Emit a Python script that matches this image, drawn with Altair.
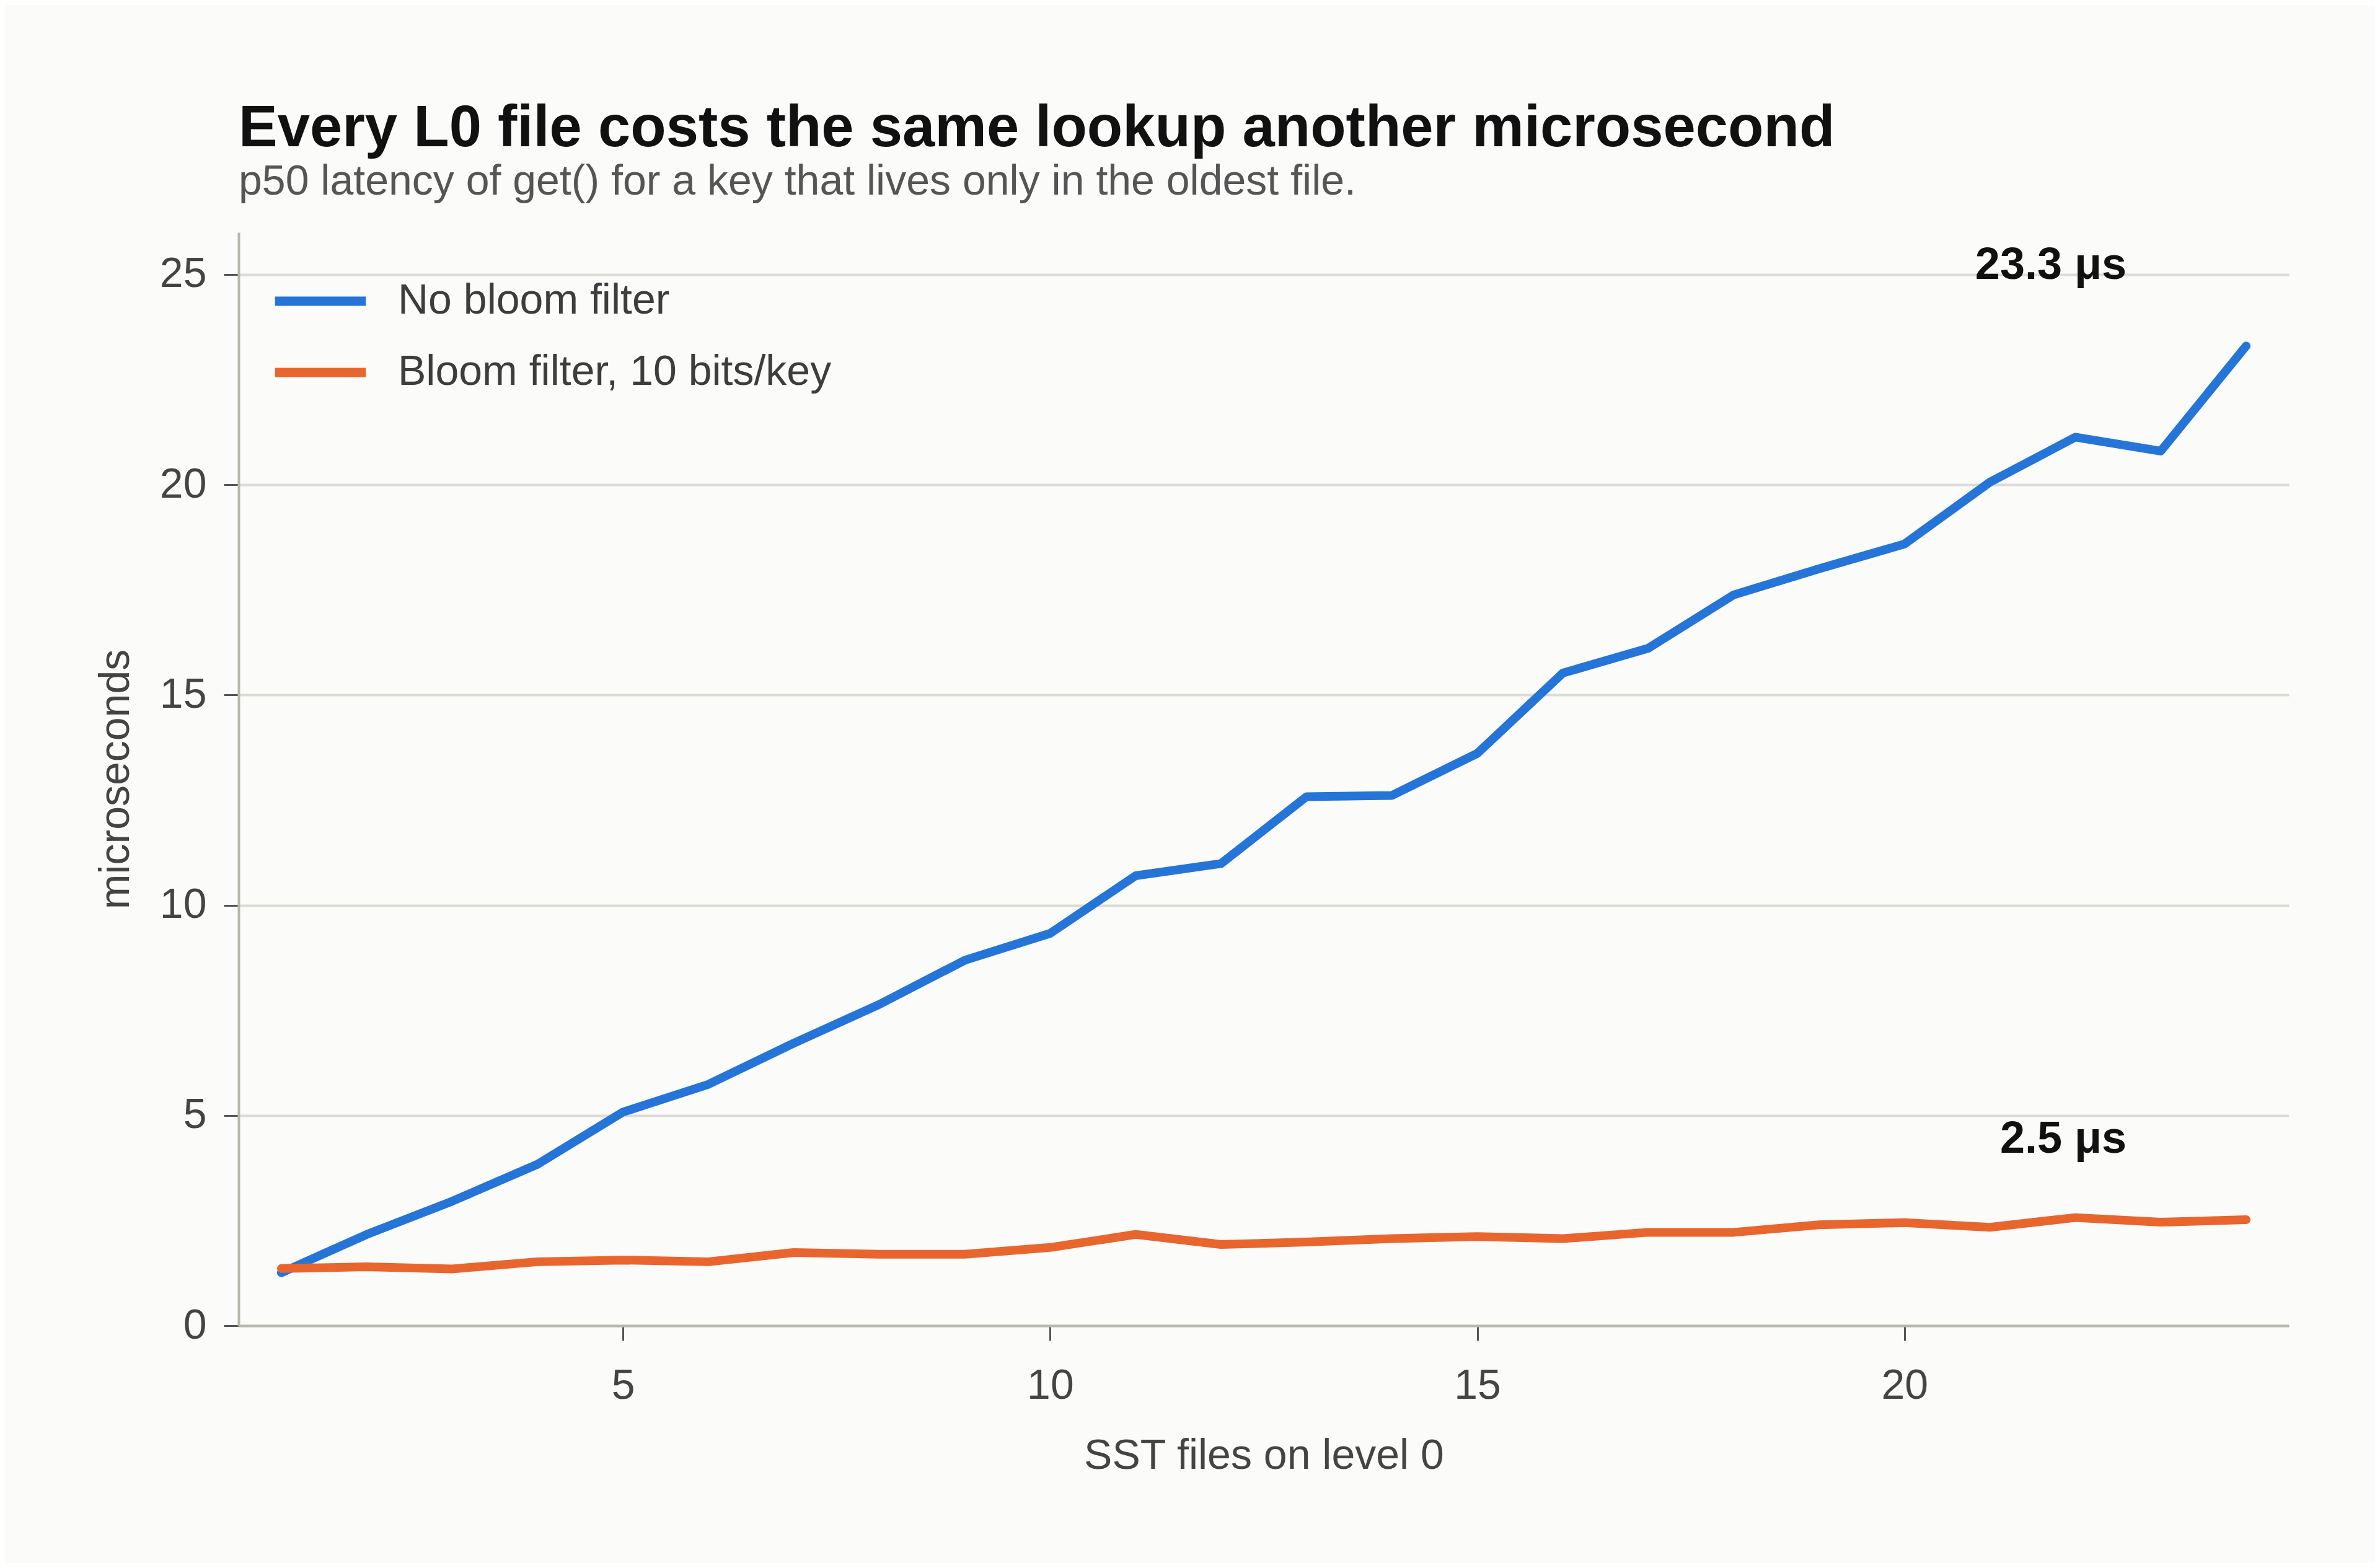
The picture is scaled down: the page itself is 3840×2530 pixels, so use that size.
import altair as alt
import pandas as pd

# ---- data ----
files = list(range(1, 25))
no_bloom = [1.26, 2.17, 2.96, 3.84, 5.08, 5.74, 6.72, 7.64, 8.69, 9.33, 10.70, 10.99,
            12.58, 12.61, 13.61, 15.52, 16.11, 17.38, 18.00, 18.59, 20.06, 21.13, 20.80, 23.30]
bloom = [1.36, 1.40, 1.35, 1.52, 1.56, 1.52, 1.74, 1.70, 1.70, 1.86, 2.17, 1.93,
         1.99, 2.07, 2.12, 2.07, 2.22, 2.22, 2.40, 2.45, 2.34, 2.57, 2.46, 2.52]
series_names = ["No bloom filter", "Bloom filter, 10 bits/key"]
series_colors = ["#2575d8", "#e9652e"]
y_ticks = [0, 5, 10, 15, 20, 25]
x_ticks = [5, 10, 15, 20]

FONT = "Helvetica, Liberation Sans, Arial, sans-serif"

df = pd.DataFrame({
    "files": files * 2,
    "us": no_bloom + bloom,
    "series": [series_names[0]] * len(files) + [series_names[1]] * len(files),
})
ends = pd.DataFrame({
    "files": [files[-1], files[-1]],
    "us": [no_bloom[-1], bloom[-1]],
    "label": [f"{no_bloom[-1]:.1f} μs", f"{bloom[-1]:.1f} μs"],
})

x_enc = alt.X("files:Q", scale=alt.Scale(domain=[0.5, 24.5], nice=False, zero=False),
              axis=alt.Axis(values=x_ticks, format="d", title="SST files on level 0", grid=False))
y_enc = alt.Y("us:Q", scale=alt.Scale(domain=[0, 26], nice=False),
              axis=alt.Axis(values=y_ticks, format="d", title="microseconds", grid=True))
color_enc = alt.Color("series:N",
                      scale=alt.Scale(domain=series_names, range=series_colors),
                      legend=alt.Legend(title=None, orient="none", legendX=51, legendY=30,
                                        symbolType="stroke", symbolStrokeWidth=15,
                                        symbolSize=21500,
                                        labelFontSize=68, labelColor="#3d3d3d", labelFont=FONT,
                                        labelLimit=0, labelOffset=44, rowPadding=-24, padding=0))

base = alt.Chart(df)
line_blue = base.transform_filter(alt.datum.series == series_names[0]).mark_line(
    strokeWidth=14, strokeCap="round", strokeJoin="round").encode(x=x_enc, y=y_enc, color=color_enc)
line_orange = base.transform_filter(alt.datum.series == series_names[1]).mark_line(
    strokeWidth=14, strokeCap="round", strokeJoin="round").encode(x=x_enc, y=y_enc, color=color_enc)

labels = alt.Chart(ends).mark_text(
    font=FONT, fontSize=72, fontWeight="bold", color="#111111",
    align="right", baseline="alphabetic", dx=-193, dy=-108,
).encode(x="files:Q", y="us:Q", text="label:N")

chart = alt.layer(line_blue, line_orange, labels).properties(
    width=3308, height=1764,
    autosize=alt.AutoSizeParams(type="none"),
    padding={"left": 377, "top": 367, "right": 139, "bottom": 383},
    background="#fbfbfa",
    title=alt.TitleParams(
        text="Every L0 file costs the same lookup another microsecond",
        subtitle="p50 latency of get() for a key that lives only in the oldest file.",
        anchor="start", frame="group", offset=46,
        font=FONT, fontSize=94, fontWeight="bold", color="#111111",
        subtitleFont=FONT, subtitleFontSize=68, subtitleColor="#555555",
        subtitlePadding=4,
    ),
).configure_view(stroke=None).configure_axis(
    labelFont=FONT, titleFont=FONT,
    labelFontSize=68, titleFontSize=68,
    labelColor="#444444", titleColor="#444444", titleFontWeight="normal",
    domainColor="#b8b6ad", domainWidth=4,
    tickColor="#555555", tickWidth=3, tickSize=24,
    gridColor="#dddbd5", gridWidth=4,
).configure_axisX(
    labelPadding=39, titlePadding=45,
).configure_axisY(
    labelPadding=28, titlePadding=36,
)

chart.save("out.html", embed_options={"renderer": "svg", "actions": False})
